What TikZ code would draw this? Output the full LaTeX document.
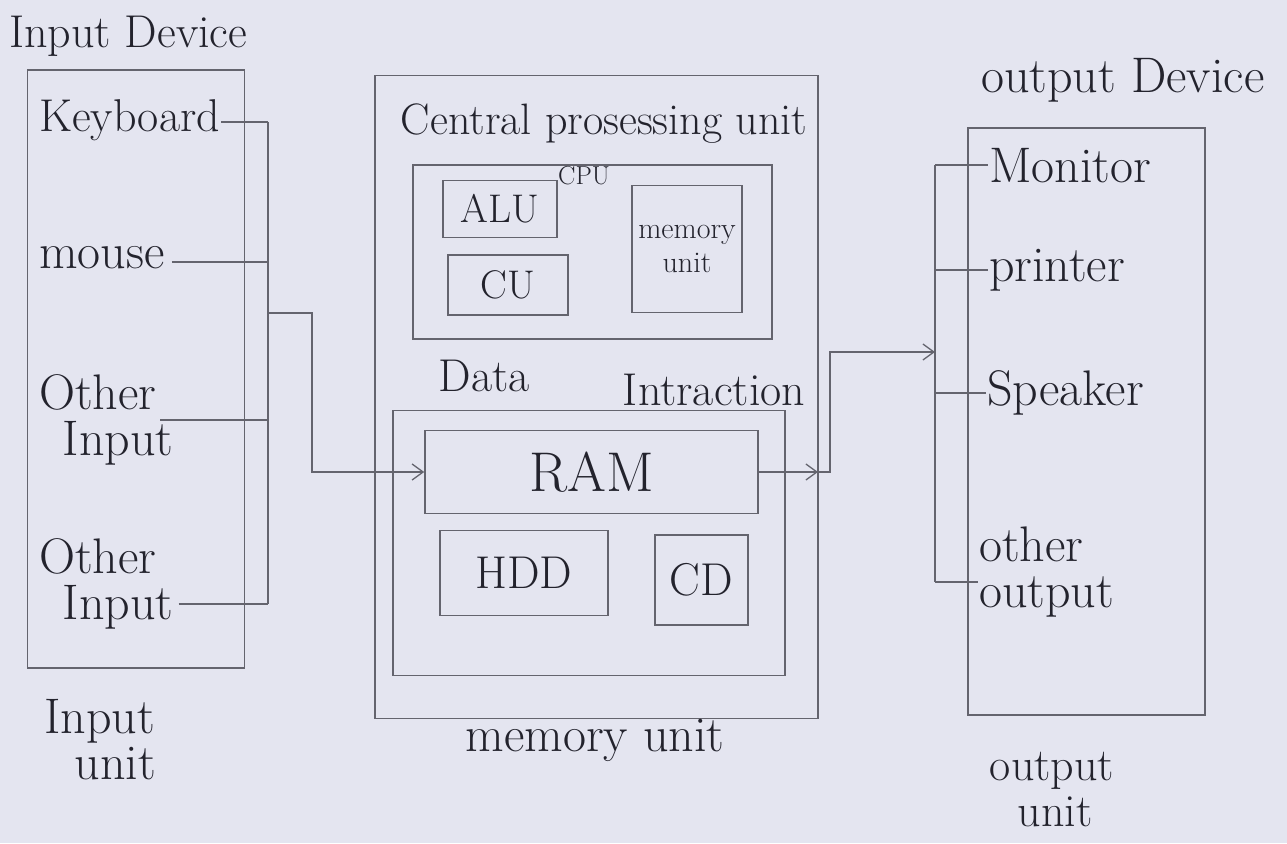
\documentclass[tikz,border=0pt]{standalone}
\usetikzlibrary{arrows.meta}
\definecolor{paper}{RGB}{228,229,240}
\definecolor{pencil}{RGB}{100,100,110}
\definecolor{ink}{RGB}{35,35,45}
\tikzset{
  box/.style={draw=pencil, line width=1.6pt, rectangle, inner sep=0pt},
  wire/.style={draw=pencil, line width=1.5pt},
  arr/.style={wire, -{Straight Barb[length=11pt,width=16pt,line width=1.3pt]}},
  lbl/.style={text=ink, font=\fontsize{46}{44}\selectfont, inner sep=1pt, align=left},
  side/.style={text=ink, font=\fontsize{50}{46}\selectfont, inner sep=1pt, align=left},
  big/.style={text=ink, font=\fontsize{56}{60}\selectfont, inner sep=1pt},
  mid/.style={text=ink, font=\fontsize{46}{50}\selectfont, inner sep=1pt},
  small/.style={text=ink, font=\fontsize{40}{44}\selectfont, inner sep=1pt},
  tiny/.style={text=ink, font=\fontsize{26}{28}\selectfont, inner sep=1pt},
}
\begin{document}
\begin{tikzpicture}[x=1pt,y=-1pt]
  % paper
  \fill[paper] (0,0) rectangle (1287,843);
  \useasboundingbox (0,0) rectangle (1287,843);

  % ---------------- input unit ----------------
  \node[lbl, anchor=west] (indev) at (8,36) {Input Device};
  \node[box, minimum width=217pt, minimum height=598pt] (inbox) at (136,369) {};
  \node[lbl, anchor=west] (kb) at (38,120) {Keyboard};
  \node[side, anchor=west] (mouse) at (38,258) {mouse};
  \node[side, anchor=west] (oin1) at (38,420) {Other\\\ \,Input};
  \node[side, anchor=west] (oin2) at (38,584) {Other\\\ \,Input};
  \node[side, align=left] (inunit) at (100,740) {Input\\\ \ unit};

  \coordinate (ib1) at (268,122);
  \coordinate (ib4) at (268,604);
  \coordinate (ibin) at (268,313);
  \draw[wire] (ib1) -- (ib4);
  \draw[wire] (kb.east) ++(0,2) coordinate (kbs) -- (kbs -| ib1);
  \draw[wire] (mouse.east) ++(6,4) coordinate (ms) -- (ms -| ib1);
  \coordinate (o1s) at (160,420);
  \draw[wire] (o1s) -- (o1s -| ib1);
  \draw[wire] (oin2.east |- ib4) ++(4,0) -- (ib4);

  % ---------------- central unit ----------------
  \node[box, minimum width=443pt, minimum height=643pt] (outer) at (596.5,397) {};
  \node[lbl, font=\fontsize{44}{48}\selectfont] (cpu title) at (604,124) {Central prosessing unit};
  \node[box, minimum width=359pt, minimum height=174pt] (cpubox) at (592.5,252) {};
  \node[tiny] (cpulbl) at (584,176) {CPU};
  \node[box, minimum width=114pt, minimum height=57pt] (alu) at (500,209) {};
  \node[small] at (alu) {ALU};
  \node[box, minimum width=120pt, minimum height=60pt] (cu) at (508,285) {};
  \node[small] at (cu) {CU};
  \node[box, minimum width=110pt, minimum height=127pt] (memsm) at (687,249) {};
  \node[text=ink, font=\fontsize{30}{34}\selectfont, align=center] at (memsm) {memory\\unit};

  \node[mid] (data) at (484,376) {Data};
  \node[mid] (instr) at (714,390) {Intraction};

  \node[box, minimum width=392pt, minimum height=265pt] (meminner) at (589,543) {};
  \node[box, minimum width=333pt, minimum height=83pt] (ram) at (591.5,472) {};
  \node[big] at (ram) {RAM};
  \node[box, minimum width=168pt, minimum height=85pt] (hdd) at (524,573) {};
  \node[mid] at (hdd) {HDD};
  \node[box, minimum width=93pt, minimum height=90pt] (cd) at (701.5,580) {};
  \node[mid] at (cd) {CD};
  \node[side] (memunit) at (595,740) {memory unit};

  % input bus to RAM
  \draw[arr] (ibin) -- (312,313) |- (ram.west);

  % ---------------- output unit ----------------
  \node[side, anchor=west] (outdev) at (980,80) {output Device};
  \node[box, minimum width=237pt, minimum height=587pt] (outbox) at (1086.5,421.5) {};
  \node[side, anchor=west] (mon) at (988,166) {Monitor};
  \node[side, anchor=west] (prn) at (988,270) {printer};
  \node[side, anchor=west] (spk) at (986,393) {Speaker};
  \node[side, anchor=west] (oout) at (978,572) {other\\output};
  \node[side, font=\fontsize{46}{46}\selectfont, align=left] (outunit) at (1052,790) {output\\\ \ unit};

  \coordinate (ob1) at (935,165);
  \coordinate (ob4) at (935,582);
  \coordinate (obin) at (935,352);
  \draw[wire] (ob1) -- (ob4);
  \draw[wire] (ob1) -- (mon.west |- ob1);
  \draw[wire] (ob1 |- prn.west) -- (prn.west);
  \draw[wire] (ob1 |- spk.west) -- (spk.west);
  \draw[wire] (ob4) -- (oout.west |- ob4);

  % RAM to output bus
  \coordinate (rx) at (818,0);
  \coordinate (rc) at (830,0);
  \draw[arr] (ram.east) -- (rx |- ram.east);
  \draw[arr] (rx |- ram.east) -- (rc |- ram.east) |- (obin);
\end{tikzpicture}
\end{document}
